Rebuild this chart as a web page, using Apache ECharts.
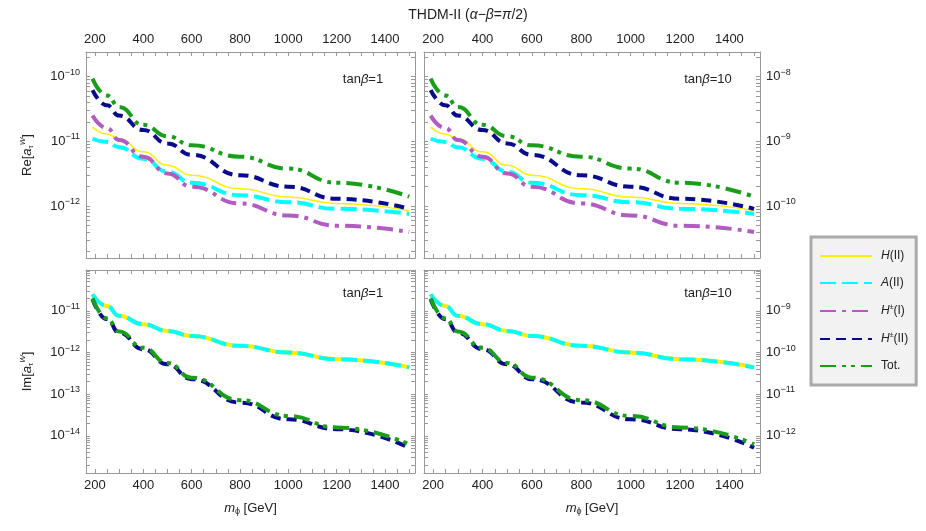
<!DOCTYPE html>
<html><head><meta charset="utf-8">
<script src="https://cdn.jsdelivr.net/npm/echarts@6/dist/echarts.min.js"></script>
<style>html,body{margin:0;padding:0;background:#fff}#c{width:926px;height:531px}</style>
</head><body><div id="c"></div>
<script>
const mass = [190, 250, 300, 400, 500, 600, 800, 1000, 1200, 1500];
const xTickLabels = [200, 400, 600, 800, 1000, 1200, 1400];
const seriesNames = ['H(II)', 'A(II)', 'H±(I)', 'H±(II)', 'Tot.'];
// Re, tanβ=1
const reH1   = [1.66e-11, 1.3e-11, 1.1e-11, 6.9e-12, 4.3e-12, 3.0e-12, 1.86e-12, 1.38e-12, 1.1e-12, 8.5e-13];
const reA1   = [1.1e-11, 9.8e-12, 8.1e-12, 5.4e-12, 3.4e-12, 2.3e-12, 1.48e-12, 1.15e-12, 9.1e-13, 7.6e-13];
const reHcI1 = [2.5e-11, 1.6e-11, 1.05e-11, 5.8e-12, 3.2e-12, 2.0e-12, 1.1e-12, 7.2e-13, 5.0e-13, 4.0e-13];
const reHcII1= [6.2e-11, 3.6e-11, 2.5e-11, 1.5e-11, 9.3e-12, 6.2e-12, 3.0e-12, 2.0e-12, 1.3e-12, 9.1e-13];
const reTot1 = [9.3e-11, 5.1e-11, 3.4e-11, 1.8e-11, 1.2e-11, 8.7e-12, 5.8e-12, 3.8e-12, 2.3e-12, 1.4e-12];
// Re, tanβ=10
const reH10   = [1.66e-9, 1.3e-9, 1.1e-9, 6.9e-10, 4.3e-10, 3.0e-10, 1.86e-10, 1.38e-10, 1.1e-10, 8.5e-11];
const reA10   = [1.1e-9, 9.8e-10, 8.1e-10, 5.4e-10, 3.4e-10, 2.3e-10, 1.48e-10, 1.15e-10, 9.1e-11, 7.6e-11];
const reHcI10 = [2.5e-9, 1.6e-9, 1.05e-9, 5.8e-10, 3.2e-10, 2.0e-10, 1.1e-10, 7.2e-11, 5.0e-11, 4.0e-11];
const reHcII10= [6.2e-9, 3.6e-9, 2.5e-9, 1.5e-9, 9.3e-10, 6.2e-10, 3.0e-10, 2.0e-10, 1.3e-10, 9.1e-11];
const reTot10 = [9.3e-9, 5.1e-9, 3.4e-9, 1.8e-9, 1.2e-9, 8.7e-10, 5.8e-10, 3.8e-10, 2.3e-10, 1.4e-10];
// Im, tanβ=1
const imH1   = [2.5e-11, 1.3e-11, 7.6e-12, 4.8e-12, 3.3e-12, 2.5e-12, 1.45e-12, 1.0e-12, 6.9e-13, 4.4e-13];
const imA1   = [2.5e-11, 1.3e-11, 7.6e-12, 4.8e-12, 3.3e-12, 2.5e-12, 1.45e-12, 1.0e-12, 6.9e-13, 4.4e-13];
const imHcII1= [1.9e-11, 6.3e-12, 3.0e-12, 1.2e-12, 5.2e-13, 2.3e-13, 6.3e-14, 2.5e-14, 1.45e-14, 5.2e-15];
const imTot1 = [2.0e-11, 6.6e-12, 3.2e-12, 1.3e-12, 5.6e-13, 2.5e-13, 7.2e-14, 3.0e-14, 1.6e-14, 6.3e-15];
// Im, tanβ=10
const imH10   = [2.5e-9, 1.3e-9, 7.6e-10, 4.8e-10, 3.3e-10, 2.5e-10, 1.45e-10, 1.0e-10, 6.9e-11, 4.4e-11];
const imA10   = [2.5e-9, 1.3e-9, 7.6e-10, 4.8e-10, 3.3e-10, 2.5e-10, 1.45e-10, 1.0e-10, 6.9e-11, 4.4e-11];
const imHcII10= [1.9e-9, 6.3e-10, 3.0e-10, 1.2e-10, 5.2e-11, 2.3e-11, 6.3e-12, 2.5e-12, 1.45e-12, 5.2e-13];
const imTot10 = [2.0e-9, 6.6e-10, 3.2e-10, 1.3e-10, 5.6e-11, 2.5e-11, 7.2e-12, 3.0e-12, 1.6e-12, 6.3e-13];

const FONT = 'Liberation Sans';
const frame = '#999';
const styles = {
  'H(II)':  {color:'#ffee00', width:1.5, type:'solid'},
  'A(II)':  {color:'#00ffff', width:4, type:[16,6]},
  'H±(I)':  {color:'#b05cc0', width:4, type:[16,6,4,6]},
  'H±(II)': {color:'#0a0a8c', width:4, type:[10,6]},
  'Tot.':   {color:'#1a9e1a', width:4, type:[16,6,4,5,4,6]}
};
const grids = [
  {left:86, right:511, top:52, height:206},
  {left:424, right:166, top:52, height:206},
  {left:86, right:511, top:270, height:203},
  {left:424, right:166, top:270, height:203}
];
const yRanges = [
  [Math.pow(10,-12.80), Math.pow(10,-9.62), [-12,-11,-10]],
  [Math.pow(10,-10.80), Math.pow(10,-7.62), [-10,-9,-8]],
  [Math.pow(10,-14.89), Math.pow(10,-10.02), [-14,-13,-12,-11]],
  [Math.pow(10,-12.89), Math.pow(10,-8.02), [-12,-11,-10,-9]]
];
const xRanges = [[163,1524],[163,1524],[163,1524],[163,1524]];
function decTicks(lo, hi){ const a=[]; for(let e=Math.floor(Math.log10(lo));e<=Math.ceil(Math.log10(hi));e++){for(let k=1;k<10;k++){const v=k*Math.pow(10,e); if(v>=lo&&v<=hi)a.push(v);}} return a; }
function expFmt(v){ const e=Math.round(Math.log10(v)); return '{b|10}{s|'+(e<0?'−'+(-e):e)+'}'; }
const labRich = {b:{fontSize:13,fontFamily:FONT,color:'#222'}, s:{fontSize:9,fontFamily:FONT,color:'#222',padding:[0,0,9,0]}};
const xTicks=[]; for(let v=200; v<=1500; v+=50) xTicks.push(v);

const xAxis=[], yAxis=[], series=[];
grids.forEach((g,i)=>{
  const [xmin,xmax]=xRanges[i];
  ['bottom','top'].forEach(pos=>{
    const showLab = (i<2 && pos==='top') || (i>=2 && pos==='bottom');
    const ax = {type:'value', gridIndex:i, position:pos, min:xmin, max:xmax,
      axisLine:{show:true, onZero:false, lineStyle:{color:frame, width:1}},
      axisTick:{show:true, inside:true, length:4, customValues:xTicks, lineStyle:{color:frame}},
      axisLabel:{show:showLab, customValues:xTickLabels, formatter:v=>String(v), fontSize:13, fontFamily:FONT, color:'#222', margin:6},
      splitLine:{show:false}};
    if (i>=2 && pos==='bottom') { ax.name='{i|m}{sub|ϕ} [GeV]'; ax.nameLocation='middle'; ax.nameGap=28;
      ax.nameTextStyle={fontSize:13,fontFamily:FONT,color:'#222',rich:{i:{fontStyle:'italic',fontSize:13,fontFamily:FONT},sub:{fontSize:9,fontFamily:FONT,padding:[6,0,0,0]}}}; }
    xAxis.push(ax);
  });
  const [ymin,ymax,dec]=yRanges[i];
  ['left','right'].forEach(pos=>{
    const showLab = (i%2===0 && pos==='left') || (i%2===1 && pos==='right');
    const ax = {type:'log', logBase:10, gridIndex:i, position:pos, min:ymin, max:ymax,
      axisLine:{show:true, lineStyle:{color:frame, width:1}},
      axisTick:{show:true, inside:true, length:4, customValues:decTicks(ymin,ymax), lineStyle:{color:frame}},
      axisLabel:{show:showLab, customValues:dec.map(e=>Math.pow(10,e)), formatter:expFmt, rich:labRich, margin:6},
      splitLine:{show:false}};
    if (i%2===0 && pos==='left') {
      ax.name = (i===0?'Re[':'Im[')+'{i|a}{sub|τ}{sup|W}]';
      ax.nameLocation='middle'; ax.nameGap=50; ax.nameRotate=90;
      ax.nameTextStyle={fontSize:13,fontFamily:FONT,color:'#222',rich:{i:{fontStyle:'italic',fontSize:13,fontFamily:FONT},sub:{fontSize:8,fontFamily:FONT,padding:[7,0,0,0]},sup:{fontSize:8,fontStyle:'italic',fontFamily:FONT,padding:[0,0,9,0]}}};
    }
    yAxis.push(ax);
  });
});
function addSeries(gi, name, vals, widthOverride){
  const s = styles[name];
  series.push({type:'line', name, xAxisIndex:2*gi, yAxisIndex:2*gi, smooth:0.5, smoothMonotone:'x', symbol:'none', showSymbol:false,
    data: mass.map((m,k)=>[m, vals[k]]),
    lineStyle:{color:s.color, width:widthOverride||s.width, type:s.type, cap:'butt'}, itemStyle:{color:s.color}, z:2});
}
addSeries(0,'H(II)',reH1); addSeries(0,'A(II)',reA1); addSeries(0,'H±(I)',reHcI1); addSeries(0,'H±(II)',reHcII1); addSeries(0,'Tot.',reTot1);
addSeries(1,'H(II)',reH10); addSeries(1,'A(II)',reA10); addSeries(1,'H±(I)',reHcI10); addSeries(1,'H±(II)',reHcII10); addSeries(1,'Tot.',reTot10);
addSeries(2,'H(II)',imH1,4); addSeries(2,'A(II)',imA1); addSeries(2,'H±(II)',imHcII1); addSeries(2,'Tot.',imTot1);
addSeries(3,'H(II)',imH10,4); addSeries(3,'A(II)',imA10); addSeries(3,'H±(II)',imHcII10); addSeries(3,'Tot.',imTot10);

const legendRich = {it:{fontStyle:'italic',fontSize:12,fontFamily:FONT,color:'#222'}, sup:{fontSize:7,fontFamily:FONT,color:'#222',padding:[0,0,7,0]}, n:{fontSize:12,fontFamily:FONT,color:'#222'}};
const legendFmt = {'H(II)':'{it|H}{n|(II)}','A(II)':'{it|A}{n|(II)}','H±(I)':'{it|H}{sup|±}{n|(I)}','H±(II)':'{it|H}{sup|±}{n|(II)}','Tot.':'{n|Tot.}'};

const chart = echarts.init(document.getElementById('c'), null, {renderer:'canvas'});
const tb = (t,l,tp)=>({text:t, left:l, top:tp, textAlign:'center', textStyle:{fontSize:13,fontWeight:'normal',fontFamily:FONT,color:'#222',rich:{i:{fontStyle:'italic',fontSize:13,fontFamily:FONT,color:'#222'}}}});
chart.setOption({
  backgroundColor:'#fff', animation:false,
  title:[
    {text:'THDM-II ({i|α}−{i|β}={i|π}/2)', left:463, top:3, textAlign:'center', textStyle:{fontSize:14,fontWeight:'normal',fontFamily:FONT,color:'#222',rich:{i:{fontStyle:'italic',fontSize:14,fontFamily:FONT,color:'#222'}}}},
    tb('tan{i|β}=1',358,68), tb('tan{i|β}=10',703,68), tb('tan{i|β}=1',358,282), tb('tan{i|β}=10',703,282)
  ],
  legend:{data:seriesNames, orient:'vertical', left:811, top:237,
    padding:[13,8,13,8], itemGap:15, itemWidth:52, itemHeight:14,
    itemStyle:{opacity:0},
    backgroundColor:'#f2f2f2', borderColor:'#aaa', borderWidth:3,
    formatter:n=>legendFmt[n], textStyle:{rich:legendRich, fontSize:12, fontFamily:FONT, color:'#222', padding:[0,0,0,4]}},
  grid:grids.map(g=>Object.assign({containLabel:false},g)),
  xAxis, yAxis, series
});
</script></body></html>
